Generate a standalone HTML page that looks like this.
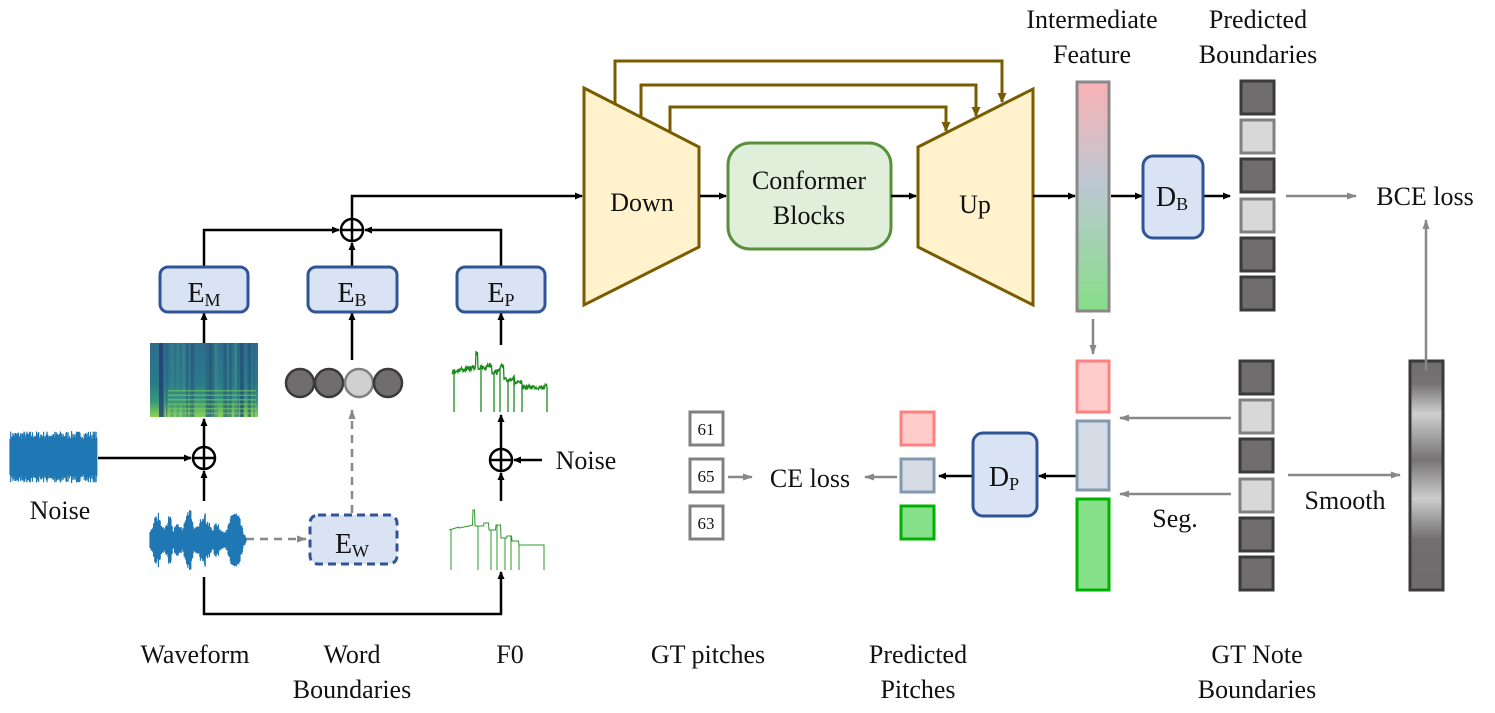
<!DOCTYPE html>
<html><head><meta charset="utf-8"><style>
html,body{margin:0;padding:0;background:#fff}
svg, svg text{font-family:"Liberation Serif","Times New Roman","DejaVu Serif",serif}
svg text{fill:#111}
</style></head><body>
<svg id="s" width="1495" height="708" viewBox="0 0 1495 708" xmlns="http://www.w3.org/2000/svg" font-family="Liberation Serif, Times New Roman, serif">
<defs>
<marker id="ab" markerWidth="8" markerHeight="8" refX="7" refY="4" orient="auto" markerUnits="userSpaceOnUse"><path d="M0,0.5 L8,4 L0,7.5 Z" fill="#000"/></marker>
<marker id="ag" markerWidth="10" markerHeight="8" refX="9" refY="4" orient="auto" markerUnits="userSpaceOnUse"><path d="M0,0.5 L10,4 L0,7.5 Z" fill="#888"/></marker>
<marker id="ao" markerWidth="10" markerHeight="10" refX="9" refY="5" orient="auto" markerUnits="userSpaceOnUse"><path d="M0,0.5 L10,5 L0,9.5 Z" fill="#7a5c00"/></marker>
<linearGradient id="feat" x1="0" y1="0" x2="0" y2="1"><stop offset="0" stop-color="#f8b2b4"/><stop offset="0.45" stop-color="#bcc8d2"/><stop offset="1" stop-color="#86de88"/></linearGradient>
<linearGradient id="smo" x1="0" y1="0" x2="0" y2="1">
<stop offset="0" stop-color="#6e6c6c"/><stop offset="0.1" stop-color="#757373"/><stop offset="0.23" stop-color="#cfcfcf"/><stop offset="0.43" stop-color="#767474"/><stop offset="0.6" stop-color="#cdcdcd"/><stop offset="0.78" stop-color="#706e6e"/><stop offset="1" stop-color="#6e6c6c"/></linearGradient>
<linearGradient id="spec" x1="0" y1="0" x2="0" y2="1"><stop offset="0" stop-color="#2e6d8c"/><stop offset="0.55" stop-color="#2a7a8a"/><stop offset="0.8" stop-color="#3a9a7a"/><stop offset="1" stop-color="#8fd255"/></linearGradient>
</defs>

<g fill="none" stroke="#7a5c00" stroke-width="3">
<polyline points="615,104 615,61 1002,61 1002,102" marker-end="url(#ao)"/>
<polyline points="641,117 641,85 976,85 976,116" marker-end="url(#ao)"/>
<polyline points="670,132 670,107 946,107 946,131" marker-end="url(#ao)"/>
</g>
<polygon points="584,88 699,147 699,247 584,305" fill="#fff2cc" stroke="#7a5c00" stroke-width="3"/>
<polygon points="918,147 1033,89 1033,305 918,247" fill="#fff2cc" stroke="#7a5c00" stroke-width="3"/>
<text x="642" y="211" font-size="26" text-anchor="middle">Down</text>
<text x="975" y="213" font-size="26" text-anchor="middle">Up</text>
<rect x="728" y="143" width="163" height="106" rx="22" fill="#e0efd9" stroke="#5a8f3c" stroke-width="3"/>
<text x="809" y="189" font-size="26" text-anchor="middle">Conformer</text>
<text x="809" y="224" font-size="26" text-anchor="middle">Blocks</text>

<g fill="none" stroke="#000" stroke-width="2.5">
<polyline points="352,219 352,196 582,196" marker-end="url(#ab)"/>
<line x1="700" y1="196" x2="726" y2="196" marker-end="url(#ab)"/>
<line x1="891" y1="196" x2="916" y2="196" marker-end="url(#ab)"/>
<line x1="1033" y1="196" x2="1075" y2="196" marker-end="url(#ab)"/>
<line x1="1111" y1="196" x2="1142" y2="196" marker-end="url(#ab)"/>
<line x1="1203" y1="196" x2="1230" y2="196" marker-end="url(#ab)"/>
<polyline points="204,267 204,230 339,230" marker-end="url(#ab)"/>
<polyline points="501,267 501,230 365,230" marker-end="url(#ab)"/>
<line x1="352" y1="267" x2="352" y2="243" marker-end="url(#ab)"/>
<line x1="204" y1="343" x2="204" y2="313" marker-end="url(#ab)"/>
<line x1="352" y1="360" x2="352" y2="313" marker-end="url(#ab)"/>
<line x1="501" y1="345" x2="501" y2="313" marker-end="url(#ab)"/>
<line x1="204" y1="447" x2="204" y2="419" marker-end="url(#ab)"/>
<line x1="204" y1="501" x2="204" y2="471" marker-end="url(#ab)"/>
<line x1="98" y1="458" x2="191" y2="458" marker-end="url(#ab)"/>
<line x1="501" y1="449" x2="501" y2="415" marker-end="url(#ab)"/>
<line x1="501" y1="501" x2="501" y2="473" marker-end="url(#ab)"/>
<line x1="542" y1="460" x2="514" y2="460" marker-end="url(#ab)"/>
<polyline points="204,577 204,614 501,614 501,572" marker-end="url(#ab)"/>
<line x1="1076" y1="476" x2="1039" y2="476" marker-end="url(#ab)"/>
<line x1="973" y1="476" x2="939" y2="476" marker-end="url(#ab)"/>
</g>
<g fill="#fff" stroke="#000" stroke-width="2.5">
<circle cx="352" cy="230" r="11"/><circle cx="204" cy="458" r="11"/><circle cx="501" cy="460" r="11"/>
</g>
<g stroke="#000" stroke-width="2.5">
<line x1="341" y1="230" x2="363" y2="230"/><line x1="352" y1="219" x2="352" y2="241"/>
<line x1="193" y1="458" x2="215" y2="458"/><line x1="204" y1="447" x2="204" y2="469"/>
<line x1="490" y1="460" x2="512" y2="460"/><line x1="501" y1="449" x2="501" y2="471"/>
</g>

<g fill="#dae3f3" stroke="#2f5597" stroke-width="3">
<rect x="160" y="267" width="88" height="45" rx="8"/>
<rect x="308" y="267" width="89" height="45" rx="8"/>
<rect x="457" y="267" width="88" height="45" rx="8"/>
<rect x="1143" y="156" width="60" height="82" rx="10"/>
<rect x="973" y="433" width="64" height="83" rx="10"/>
<rect x="310" y="515" width="87" height="49" rx="8" stroke-dasharray="8,5"/>
</g>
<text x="204" y="302" font-size="28" text-anchor="middle">E<tspan font-size="18" dy="4">M</tspan></text>
<text x="352" y="302" font-size="28" text-anchor="middle">E<tspan font-size="18" dy="4">B</tspan></text>
<text x="501" y="302" font-size="28" text-anchor="middle">E<tspan font-size="18" dy="4">P</tspan></text>
<text x="352" y="553" font-size="28" text-anchor="middle">E<tspan font-size="18" dy="4">W</tspan></text>
<text x="1172" y="206" font-size="28" text-anchor="middle">D<tspan font-size="18" dy="4">B</tspan></text>
<text x="1004" y="486" font-size="28" text-anchor="middle">D<tspan font-size="18" dy="4">P</tspan></text>

<g stroke="#888" stroke-width="2.5" fill="none" stroke-dasharray="8,6">
<line x1="246" y1="539" x2="306" y2="539" marker-end="url(#ag)"/>
<line x1="352" y1="513" x2="352" y2="410" marker-end="url(#ag)"/>
</g>

<rect x="150" y="343" width="108" height="74" fill="url(#spec)"/>
<g id="specstripes"></g>
<g stroke="#3a3a3a" stroke-width="2.5">
<circle cx="300" cy="383" r="14" fill="#6f6d6d"/><circle cx="329" cy="383" r="14" fill="#6f6d6d"/>
<circle cx="359" cy="383" r="14" fill="#d0d0d0" stroke="#808080"/><circle cx="388" cy="383" r="14" fill="#6f6d6d"/>
</g>
<g id="waves"></g>

<text x="60" y="519" font-size="26" text-anchor="middle">Noise</text>
<text x="586" y="469" font-size="26" text-anchor="middle">Noise</text>

<rect x="1077" y="82" width="32" height="229" fill="url(#feat)" stroke="#888" stroke-width="3"/>
<line x1="1093" y1="319" x2="1093" y2="354" stroke="#888" stroke-width="2.5" marker-end="url(#ag)"/>
<rect x="1077" y="361" width="32" height="51" fill="#ffcccc" stroke="#ff8080" stroke-width="3"/>
<rect x="1077" y="421" width="32" height="69" fill="#d6dce5" stroke="#8497b0" stroke-width="3"/>
<rect x="1077" y="499" width="32" height="91" fill="#86e08a" stroke="#00b000" stroke-width="3"/>

<g stroke-width="3">
<rect x="1241" y="81" width="33" height="33" fill="#6f6d6d" stroke="#3a3a3a"/>
<rect x="1241" y="120" width="33" height="33" fill="#d8d8d8" stroke="#808080"/>
<rect x="1241" y="159" width="33" height="33" fill="#6f6d6d" stroke="#3a3a3a"/>
<rect x="1241" y="199" width="33" height="33" fill="#d8d8d8" stroke="#808080"/>
<rect x="1241" y="238" width="33" height="33" fill="#6f6d6d" stroke="#3a3a3a"/>
<rect x="1241" y="277" width="33" height="33" fill="#6f6d6d" stroke="#3a3a3a"/>
<rect x="1240" y="361" width="33" height="33" fill="#6f6d6d" stroke="#3a3a3a"/>
<rect x="1240" y="400" width="33" height="33" fill="#d8d8d8" stroke="#808080"/>
<rect x="1240" y="439" width="33" height="33" fill="#6f6d6d" stroke="#3a3a3a"/>
<rect x="1240" y="479" width="33" height="33" fill="#d8d8d8" stroke="#808080"/>
<rect x="1240" y="518" width="33" height="33" fill="#6f6d6d" stroke="#3a3a3a"/>
<rect x="1240" y="557" width="33" height="33" fill="#6f6d6d" stroke="#3a3a3a"/>
</g>
<rect x="1410" y="361" width="33" height="229" fill="url(#smo)" stroke="#3a3a3a" stroke-width="3"/>

<g stroke="#888" stroke-width="2.5" fill="none">
<line x1="1286" y1="196" x2="1356" y2="196" marker-end="url(#ag)"/>
<line x1="1426" y1="370" x2="1426" y2="220" marker-end="url(#ag)"/>
<line x1="1231" y1="418" x2="1120" y2="418" marker-end="url(#ag)"/>
<line x1="1231" y1="494" x2="1120" y2="494" marker-end="url(#ag)"/>
<line x1="1288" y1="475" x2="1400" y2="475" marker-end="url(#ag)"/>
<line x1="897" y1="477" x2="865" y2="477" marker-end="url(#ag)"/>
<line x1="728" y1="477" x2="752" y2="477" marker-end="url(#ag)"/>
</g>

<rect x="901" y="412" width="33" height="33" fill="#ffcccc" stroke="#ff8080" stroke-width="3"/>
<rect x="901" y="459" width="33" height="33" fill="#d6dce5" stroke="#8497b0" stroke-width="3"/>
<rect x="901" y="506" width="33" height="33" fill="#86e08a" stroke="#00b000" stroke-width="3"/>
<g fill="#fff" stroke="#808080" stroke-width="3">
<rect x="690" y="412" width="33" height="33"/><rect x="690" y="459" width="33" height="33"/><rect x="690" y="506" width="33" height="33"/>
</g>
<text x="706" y="435" font-size="17" text-anchor="middle">61</text>
<text x="706" y="482" font-size="17" text-anchor="middle">65</text>
<text x="706" y="529" font-size="17" text-anchor="middle">63</text>
<text x="810" y="487" font-size="26" text-anchor="middle">CE loss</text>
<text x="1425" y="205" font-size="26" text-anchor="middle">BCE loss</text>
<text x="1345" y="509" font-size="26" text-anchor="middle">Smooth</text>
<text x="1175" y="527" font-size="26" text-anchor="middle">Seg.</text>

<text x="1092" y="28" font-size="26" text-anchor="middle">Intermediate</text>
<text x="1092" y="63" font-size="26" text-anchor="middle">Feature</text>
<text x="1258" y="28" font-size="26" text-anchor="middle">Predicted</text>
<text x="1258" y="63" font-size="26" text-anchor="middle">Boundaries</text>

<text x="195" y="663" font-size="26" text-anchor="middle">Waveform</text>
<text x="352" y="663" font-size="26" text-anchor="middle">Word</text>
<text x="352" y="698" font-size="26" text-anchor="middle">Boundaries</text>
<text x="510" y="663" font-size="26" text-anchor="middle">F0</text>
<text x="708" y="663" font-size="26" text-anchor="middle">GT pitches</text>
<text x="918" y="663" font-size="26" text-anchor="middle">Predicted</text>
<text x="918" y="698" font-size="26" text-anchor="middle">Pitches</text>
<text x="1257" y="663" font-size="26" text-anchor="middle">GT Note</text>
<text x="1257" y="698" font-size="26" text-anchor="middle">Boundaries</text>
</svg>
<script>
(function(){
var NS="http://www.w3.org/2000/svg";var w=document.getElementById("waves");
var seed=7;function r(){seed=(seed*16807)%2147483647;return seed/2147483647;}
function p(d,stroke,sw,fill){var e=document.createElementNS(NS,"path");e.setAttribute("d",d);e.setAttribute("stroke",stroke);e.setAttribute("stroke-width",sw);e.setAttribute("fill",fill||"none");w.appendChild(e);}
var d="";for(var x=10;x<=97;x+=0.7){var a=18+r()*8;d+="M"+x.toFixed(1)+","+(457-a).toFixed(1)+"V"+(457+a).toFixed(1);}
p(d,"#1f77b4",1.2);
var env=[[150,8],[155,25],[158,30],[162,12],[166,15],[170,30],[173,10],[178,18],[182,12],[186,25],[190,38],[194,12],[199,15],[203,34],[207,22],[212,12],[218,20],[222,8],[228,15],[234,34],[239,25],[243,10],[246,2]];
function envAt(x){for(var i=0;i<env.length-1;i++){if(x>=env[i][0]&&x<=env[i+1][0]){var t=(x-env[i][0])/(env[i+1][0]-env[i][0]);return env[i][1]*(1-t)+env[i+1][1]*t;}}return 2;}
d="";for(var x=150;x<=246;x+=0.6){var a=envAt(x)*(0.6+0.4*r());d+="M"+x.toFixed(1)+","+(540-a).toFixed(1)+"V"+(540+a).toFixed(1);}
p(d,"#1f77b4",1.2);
function f0(x0,y0,noisy,col){var d="";var first=true;
for(var x=0;x<=95;x+=0.5){var y=20;if(x<10)y=22-x*0.3;else if(x<24)y=20-(x-10)*0.2;else if(x<26)y=2;else if(x<35)y=18;else if(x<40)y=15;else if(x<47)y=22;else if(x<52)y=17;else if(x<58)y=30;else if(x<63)y=28;else if(x<70)y=33;else y=37;
if(noisy)y+=(r()-0.5)*5;var drop=[2,29,42,48,56,62,70,95];var isdrop=false;for(var k=0;k<drop.length;k++){if(Math.abs(x-drop[k])<0.3)isdrop=true;}
var X=x0+x,Y=y0+y;if(isdrop){d+=(first?"M":"L")+X+","+Y+"L"+X+","+(y0+62)+"L"+X+","+Y;}else d+=(first?"M":"L")+X.toFixed(1)+","+Y.toFixed(1);first=false;}
p(d,col,noisy?1.3:1);}
f0(452,350,true,"#1a8a1a");f0(449,508,false,"#2a9a2a");
var g=document.getElementById("specstripes");
for(var i=0;i<30;i++){var e=document.createElementNS(NS,"rect");var x=150+r()*104;e.setAttribute("x",x);e.setAttribute("y",343);e.setAttribute("width",1+r()*3);e.setAttribute("height",74);e.setAttribute("fill",r()<0.5?"#23527a":"#3c8c8c");e.setAttribute("opacity",0.5);g.appendChild(e);}
for(var j=0;j<6;j++){var e=document.createElementNS(NS,"rect");e.setAttribute("x",168);e.setAttribute("y",390+j*4.5);e.setAttribute("width",88);e.setAttribute("height",1.5);e.setAttribute("fill","#7ccc5e");e.setAttribute("opacity",0.6);g.appendChild(e);}
var e=document.createElementNS(NS,"rect");e.setAttribute("x",159);e.setAttribute("y",343);e.setAttribute("width",4);e.setAttribute("height",74);e.setAttribute("fill","#233c72");e.setAttribute("opacity",0.8);g.appendChild(e);
})();
</script>
</body></html>
